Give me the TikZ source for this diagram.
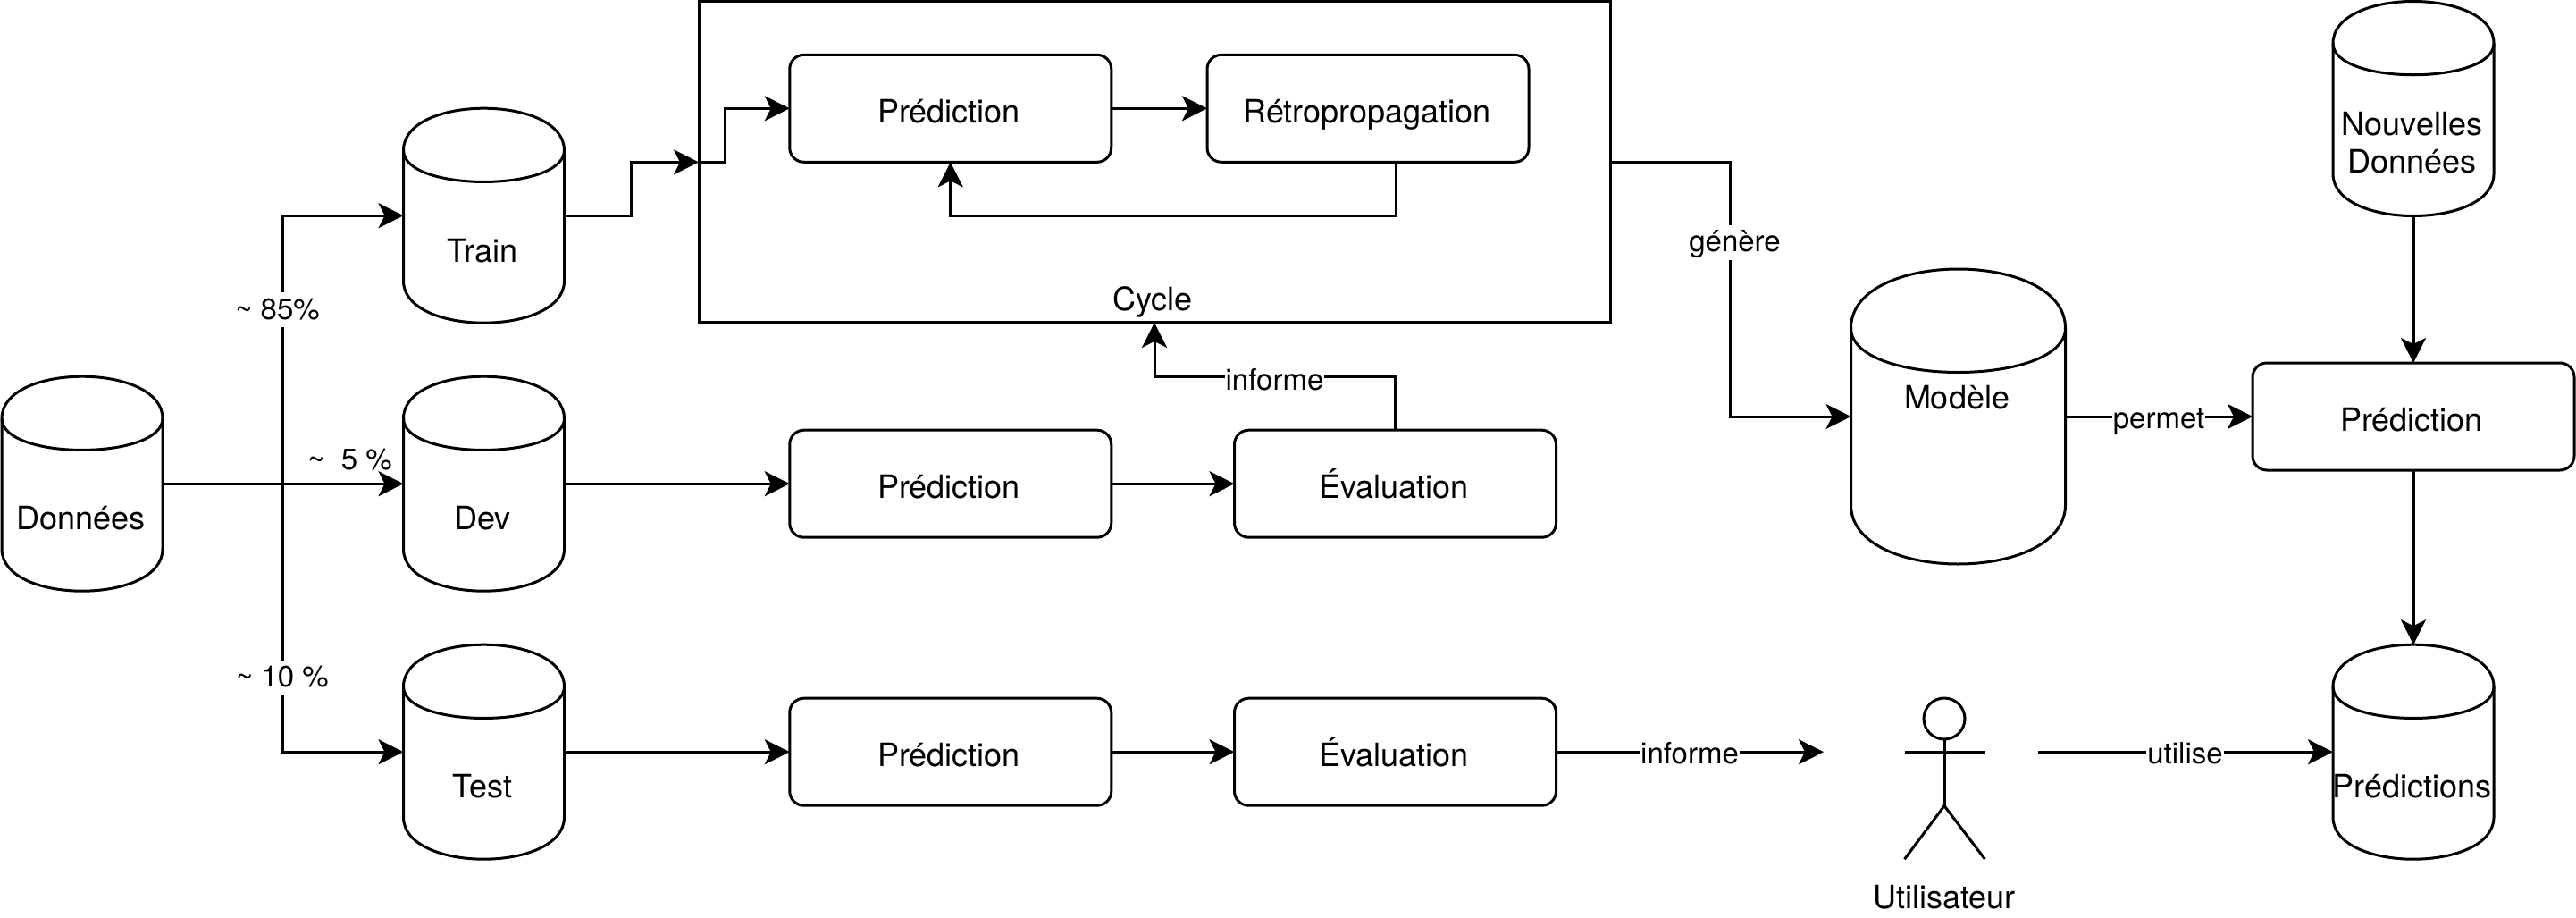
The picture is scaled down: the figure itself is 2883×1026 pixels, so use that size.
\documentclass[tikz,border=0pt]{standalone}
\usepackage{fontspec}
\setmainfont{TeX Gyre Heros}
\usetikzlibrary{arrows.meta,calc}
\tikzset{
  ln/.style={line width=3pt,draw=black,line join=miter},
  arr/.style={ln,-{Stealth[length=28pt,width=28pt,inset=7pt]}},
  boxnode/.style={draw=black,line width=3pt,rounded corners=16pt,minimum width=360pt,minimum height=120pt,inner sep=0pt,outer sep=0pt},
  framenode/.style={draw=black,line width=3pt,minimum width=1020pt,minimum height=359pt,inner sep=0pt,outer sep=0pt},
  cylnode/.style={inner sep=0pt,outer sep=0pt},
  txt/.style={inner sep=0pt,outer sep=0pt,anchor=base,font=\fontsize{36}{42.5}\selectfont,align=center},
  lab/.style={inner ysep=0pt,inner xsep=1pt,outer sep=0pt,anchor=base,font=\fontsize{33}{39}\selectfont,fill=white,text height=30pt,text depth=9pt},
  headnode/.style={circle,draw=black,line width=3pt,minimum size=46pt,inner sep=0pt,outer sep=0pt}
}
\newcommand{\cylshape}[6]{%
  \pgfmathsetmacro{\cylx}{#2-#4/2}%
  \pgfmathsetmacro{\cyly}{#3-#5/2}%
  \pgfmathsetmacro{\cylc}{-#6/3}%
  \pgfmathsetmacro{\cyld}{2*#6}%
  \pgfmathsetmacro{\cyle}{#5-#6}%
  \pgfmathsetmacro{\cylf}{#5+#6/3}%
  \node[cylnode,minimum width=#4pt,minimum height=#5pt] (#1) at (#2,#3) {};
  \begin{scope}[shift={(\cylx,\cyly)}]
    \draw[ln] (0,#6) .. controls (0,\cylc) and (#4,\cylc) .. (#4,#6) -- (#4,\cyle)
      .. controls (#4,\cylf) and (0,\cylf) .. (0,\cyle) -- cycle;
    \draw[ln] (0,#6) .. controls (0,\cyld) and (#4,\cyld) .. (#4,#6);
  \end{scope}
}
\begin{document}
\begin{tikzpicture}[x=1pt,y=-1pt]
\useasboundingbox[fill=white] (0,0) rectangle (2883,1026);
% cylinders
\cylshape{don}{92}{541.2}{180}{240}{47}
\cylshape{train}{541.5}{241.2}{180}{240}{47}
\cylshape{dev}{541.5}{541.2}{180}{240}{47}
\cylshape{test}{541.5}{841.2}{180}{240}{47}
\cylshape{mod}{2191.5}{466}{240}{330}{66}
\cylshape{nouv}{2701}{121.5}{180}{240}{47}
\cylshape{preds}{2701}{841.2}{180}{240}{47}
% boxes
\node[framenode] (cycle) at (1292,181.4) {};
\node[boxnode] (p1) at (1063.75,121.3) {};
\node[boxnode] (retro) at (1531,121.3) {};
\node[boxnode] (p2) at (1063.75,541.2) {};
\node[boxnode] (e2) at (1561.5,541.2) {};
\node[boxnode] (p3) at (1063.75,841.2) {};
\node[boxnode] (e3) at (1561.5,841.2) {};
\node[boxnode] (p4) at (2701,466) {};
% actor
\node[headnode] (head) at (2176,804) {};
\coordinate (hip) at (2176,901.5);
\coordinate (armL) at (2131.5,841.2);
\coordinate (armR) at (2221.5,841.2);
\coordinate (legL) at (2131.5,961.2);
\coordinate (legR) at (2221.5,961.2);
\draw[ln] (head.south) -- (hip);
\draw[ln] (armL) -- (armR);
\draw[ln] (legL) -- (hip) -- (legR);
% helper coordinates
\coordinate (branch) at (316,541.2);
\coordinate (trainstep) at (706.5,181.4);
\coordinate (cyclestep) at (811,181.4);
\coordinate (genstep) at (1936,466);
\coordinate (infend) at (2041,841.2);
\coordinate (utstart) at (2281,841.2);
% connectors
\draw[arr] (don.east) -- (dev.west);
\draw[arr] (branch) |- (train.west);
\draw[arr] (branch) |- (test.west);
\draw[arr] (train.east) -| (trainstep) -- (cycle.west);
\draw[arr] (cycle.west) -- (cyclestep) |- (p1.west);
\draw[arr] (p1.east) -- (retro.west);
\draw[arr] ([xshift=31pt]retro.south) -- ++(0,60) -| (p1.south);
\draw[arr] (dev.east) -- (p2.west);
\draw[arr] (p2.east) -- (e2.west);
\draw[arr] (e2.north) -- ++(0,-60) -| (cycle.south);
\draw[arr] (test.east) -- (p3.west);
\draw[arr] (p3.east) -- (e3.west);
\draw[arr] (e3.east) -- (infend);
\draw[arr] (utstart) -- (preds.west);
\draw[arr] (cycle.east) -| (genstep) -- (mod.west);
\draw[arr] (mod.east) -- (p4.west);
\draw[arr] (nouv.south) -- (p4.north);
\draw[arr] (p4.south) -- (preds.north);
% texts
\node[txt] (tdon) at (90.5,592.5) {Données};
\node[txt] (ttrain) at (540,293.5) {Train};
\node[txt] (tdev) at (540,592.5) {Dev};
\node[txt] (ttest) at (540,892.5) {Test};
\node[txt] (tmod) at (2190,457) {Modèle};
\node[txt] (tnouv) at (2699.5,193.7) {Nouvelles\\Données};
\node[txt] (tpreds) at (2699.5,892.5) {Prédictions};
\node[txt] (tp1) at (1062,137) {Prédiction};
\node[txt] (tretro) at (1530,137) {Rétropropagation};
\node[txt] (tp2) at (1062,557) {Prédiction};
\node[txt] (te2) at (1560,557) {Évaluation};
\node[txt] (tp3) at (1062,857) {Prédiction};
\node[txt] (te3) at (1560,857) {Évaluation};
\node[txt] (tp4) at (2699,482) {Prédiction};
\node[txt] (tcycle) at (1290,347) {Cycle};
\node[txt] (tuser) at (2176,1016) {Utilisateur};
% labels
\node[lab] (l85) at (310.5,357) {\textasciitilde{} 85\%};
\node[lab] (l10) at (316,768.5) {\textasciitilde{} 10 \%};
\node[lab,fill=none] (l5) at (391.5,525) {\textasciitilde{}\ \ 5 \%};
\node[lab] (linf2) at (1426.5,436) {informe};
\node[lab] (linf3) at (1891,854.5) {informe};
\node[lab] (lgen) at (1941.5,281.5) {génère};
\node[lab] (lperm) at (2416,479) {permet};
\node[lab] (luse) at (2445.5,854.5) {utilise};
\end{tikzpicture}
\end{document}
